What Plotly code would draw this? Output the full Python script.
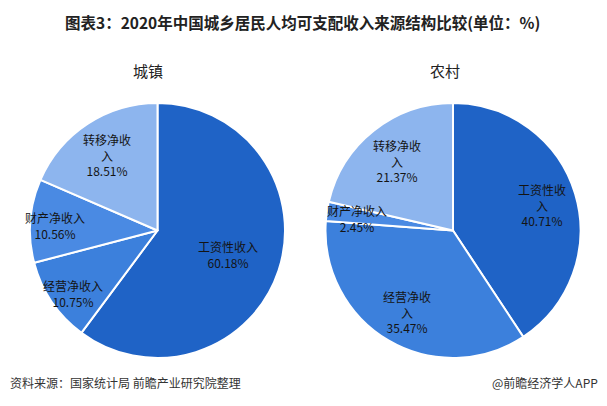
import plotly.graph_objects as go

categories = ["工资性收入", "经营净收入", "财产净收入", "转移净收入"]
urban_values = [60.18, 10.75, 10.56, 18.51]
rural_values = [40.71, 35.47, 2.45, 21.37]
colors = ["#1F63C6", "#3C80DC", "#4A8AE3", "#8DB5EE"]

title = "图表3：2020年中国城乡居民人均可支配收入来源结构比较(单位：%)"
urban_name = "城镇"
rural_name = "农村"
source_text = "资料来源：国家统计局 前瞻产业研究院整理"
brand_text = "@前瞻经济学人APP"

# label line breaks (as shown in the reference)
urban_label_text = ["工资性收入", "经营净收入", "财产净收入", "转移净收<br>入"]
rural_label_text = ["工资性收<br>入", "经营净收<br>入", "财产净收入", "转移净收<br>入"]
# label centers in pixels (x, y from top)
urban_label_pos = [(228, 255), (73, 293), (55, 225), (107, 155)]
rural_label_pos = [(542, 205), (407, 312), (357, 219), (397, 161)]

W, H = 607, 406
FONT = "Noto Sans CJK SC"

fig = go.Figure()

def dom(cx, cy, r):
    return dict(x=[(cx - r) / W, (cx + r) / W], y=[1 - (cy + r) / H, 1 - (cy - r) / H])

for vals, d in [(urban_values, dom(157.5, 230.5, 127.5)), (rural_values, dom(453, 230.5, 127.5))]:
    fig.add_trace(go.Pie(
        labels=categories, values=vals, sort=False, direction="clockwise",
        rotation=0, textinfo="none", hoverinfo="label+percent",
        marker=dict(colors=colors, line=dict(color="white", width=2)),
        domain=d, showlegend=False,
    ))

annotations = []
for vals, texts, poss in [(urban_values, urban_label_text, urban_label_pos),
                          (rural_values, rural_label_text, rural_label_pos)]:
    for v, t, (x, y) in zip(vals, texts, poss):
        annotations.append(dict(
            x=x / W, y=1 - y / H, xref="paper", yref="paper",
            text=f"{t}<br>{v:.2f}%", showarrow=False,
            font=dict(family=FONT, size=12, color="#141414"),
            align="center", xanchor="center", yanchor="middle",
        ))

annotations += [
    dict(x=302 / W, y=1 - 22 / H, xref="paper", yref="paper", text=f"<b>{title}</b>",
         showarrow=False, font=dict(family=FONT, size=15.5, color="#222"),
         xanchor="center", yanchor="middle"),
    dict(x=148 / W, y=1 - 70 / H, xref="paper", yref="paper", text=urban_name,
         showarrow=False, font=dict(family=FONT, size=15, color="#222"),
         xanchor="center", yanchor="middle"),
    dict(x=445 / W, y=1 - 70 / H, xref="paper", yref="paper", text=rural_name,
         showarrow=False, font=dict(family=FONT, size=15, color="#222"),
         xanchor="center", yanchor="middle"),
    dict(x=8 / W, y=1 - 382 / H, xref="paper", yref="paper", text=source_text,
         showarrow=False, font=dict(family=FONT, size=12, color="#333"),
         xanchor="left", yanchor="middle"),
    dict(x=600 / W, y=1 - 382 / H, xref="paper", yref="paper", text=brand_text,
         showarrow=False, font=dict(family=FONT, size=12, color="#333"),
         xanchor="right", yanchor="middle"),
]

fig.update_layout(
    width=W, height=H, margin=dict(l=0, r=0, t=0, b=0),
    paper_bgcolor="white", plot_bgcolor="white",
    annotations=annotations,
)

fig.write_html("out.html", config={"displayModeBar": False},
               post_script="document.body.style.margin='0';document.body.style.overflow='hidden';")
